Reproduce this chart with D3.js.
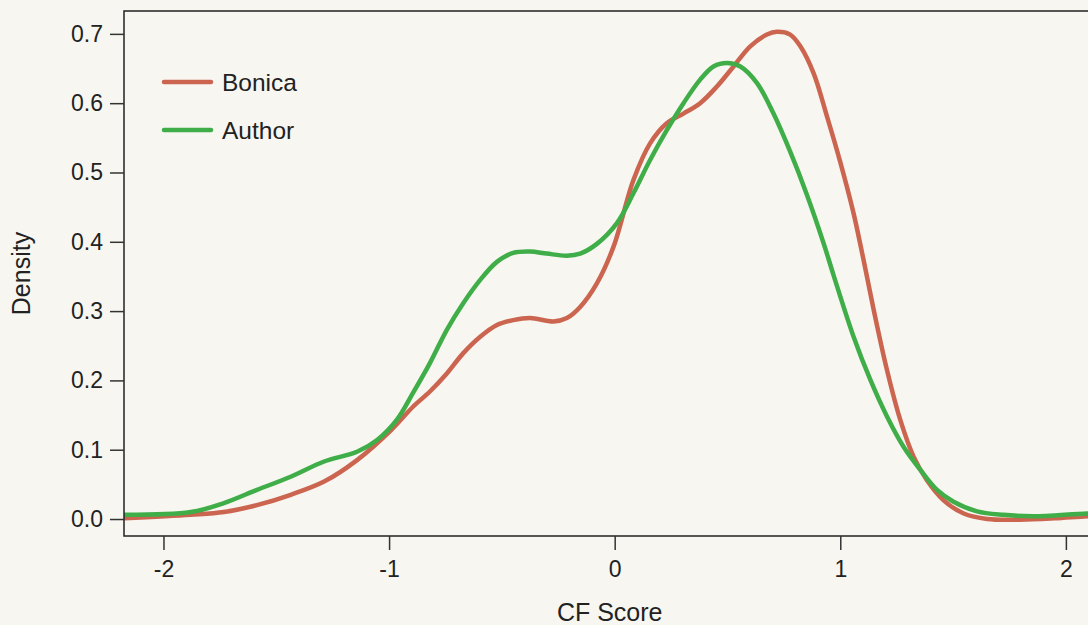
<!DOCTYPE html>
<html>
<head>
<meta charset="utf-8">
<script src="https://cdn.jsdelivr.net/npm/d3@7"></script>
<style>
  body { margin: 0; background: #f7f6f0; }
  text { font-family: "Liberation Sans", Arial, sans-serif; fill: #222; }
</style>
</head>
<body>
<svg></svg>
<script>
const svgWidth = 1088
const svgHeight = 625
const margins = { top: 11, bottom: 89, left: 124, right: -20 }
const plotWidth = svgWidth - margins.left - margins.right
const plotHeight = svgHeight - margins.top - margins.bottom

// density curves: [cf score, density]
const bonica = [
  [-2.175, 0.001], [-1.879, 0.006], [-1.732, 0.010], [-1.586, 0.020], [-1.436, 0.035],
  [-1.288, 0.054], [-1.142, 0.085], [-0.992, 0.128], [-0.894, 0.162], [-0.819, 0.184],
  [-0.744, 0.210], [-0.672, 0.239], [-0.596, 0.263], [-0.522, 0.280], [-0.450, 0.287],
  [-0.375, 0.290], [-0.271, 0.285], [-0.212, 0.290], [-0.153, 0.306], [-0.079, 0.340],
  [-0.005, 0.393], [0.083, 0.489], [0.157, 0.542], [0.231, 0.571], [0.305, 0.585],
  [0.379, 0.600], [0.453, 0.624], [0.527, 0.653], [0.601, 0.682], [0.675, 0.699],
  [0.719, 0.703], [0.778, 0.699], [0.823, 0.682], [0.882, 0.643], [0.941, 0.581],
  [1.000, 0.515], [1.059, 0.441], [1.103, 0.374], [1.148, 0.302], [1.207, 0.215],
  [1.266, 0.143], [1.325, 0.090], [1.384, 0.056], [1.458, 0.027], [1.547, 0.008],
  [1.651, 0.000], [1.798, -0.001], [1.950, 0.001], [2.094, 0.004], [2.190, 0.005]
]

const author = [
  [-2.175, 0.006], [-1.879, 0.010], [-1.732, 0.023], [-1.586, 0.042], [-1.436, 0.061],
  [-1.288, 0.083], [-1.142, 0.097], [-1.053, 0.114], [-0.966, 0.143], [-0.894, 0.182],
  [-0.819, 0.225], [-0.744, 0.273], [-0.672, 0.311], [-0.596, 0.345], [-0.522, 0.371],
  [-0.450, 0.384], [-0.375, 0.386], [-0.301, 0.383], [-0.212, 0.380], [-0.153, 0.383],
  [-0.079, 0.397], [0.010, 0.427], [0.083, 0.470], [0.157, 0.518], [0.231, 0.561],
  [0.305, 0.600], [0.379, 0.634], [0.438, 0.653], [0.498, 0.658], [0.557, 0.653],
  [0.631, 0.629], [0.704, 0.585], [0.778, 0.530], [0.852, 0.468], [0.926, 0.398],
  [0.970, 0.352], [1.059, 0.263], [1.133, 0.201], [1.207, 0.148], [1.281, 0.104],
  [1.355, 0.071], [1.429, 0.042], [1.502, 0.025], [1.606, 0.011], [1.723, 0.006],
  [1.856, 0.004], [2.094, 0.008], [2.190, 0.008]
]

const xTicks = [-2, -1, 0, 1, 2]
const yTicks = [0, 0.1, 0.2, 0.3, 0.4, 0.5, 0.6, 0.7]
const seriesNames = ["Bonica", "Author"]
const seriesColors = ["#cb6550", "#3fae48"]

const svg = d3.select("svg")
  .attr("width", svgWidth)
  .attr("height", svgHeight)

svg.append("rect")
  .attr("width", svgWidth)
  .attr("height", svgHeight)
  .attr("fill", "#f7f6f0")

// 225.6 px per unit of CF score, plot starts at -2.175
const xScale = d3.scaleLinear()
  .domain([-2.175, -2.175 + plotWidth / 225.6])
  .range([0, plotWidth])
const yScale = d3.scaleLinear()
  .domain([-0.0245, 0.733])
  .range([plotHeight, 0])

const plot = svg.append("g")
  .attr("transform", `translate(${margins.left},${margins.top})`)

plot.append("clipPath").attr("id", "clip")
  .append("rect").attr("width", plotWidth).attr("height", plotHeight)

const line = d3.line()
  .x(d => xScale(d[0]))
  .y(d => yScale(d[1]))
  .curve(d3.curveCatmullRom.alpha(0.5))

;[bonica, author].forEach((data, i) => {
  plot.append("path")
    .datum(data)
    .attr("clip-path", "url(#clip)")
    .attr("fill", "none")
    .attr("stroke", seriesColors[i])
    .attr("stroke-width", 4.5)
    .attr("stroke-linejoin", "round")
    .attr("d", line)
})

// frame
plot.append("rect")
  .attr("width", plotWidth)
  .attr("height", plotHeight)
  .attr("fill", "none")
  .attr("stroke", "#222")
  .attr("stroke-width", 1.5)

const yAxis = plot.append("g")
  .call(d3.axisLeft(yScale).tickValues(yTicks).tickSize(14).tickPadding(7)
    .tickFormat(d3.format(".1f")))
yAxis.select(".domain").remove()
yAxis.selectAll("line").attr("stroke", "#333").attr("stroke-width", 1.5)
yAxis.selectAll("text").attr("font-size", 23).attr("fill", "#222")
  .attr("font-family", "Liberation Sans, Arial, sans-serif")

const xAxis = plot.append("g")
  .attr("transform", `translate(0,${plotHeight})`)
  .call(d3.axisBottom(xScale).tickValues(xTicks).tickSize(14).tickPadding(11)
    .tickFormat(d => String(d)))
xAxis.select(".domain").remove()
xAxis.selectAll("line").attr("stroke", "#333").attr("stroke-width", 1.5)
xAxis.selectAll("text").attr("font-size", 23).attr("fill", "#222")
  .attr("font-family", "Liberation Sans, Arial, sans-serif")

svg.append("text")
  .text("Density")
  .attr("transform", `translate(30,${margins.top + plotHeight / 2}) rotate(-90)`)
  .attr("text-anchor", "middle")
  .attr("font-size", 25)

svg.append("text")
  .text("CF Score")
  .attr("x", xScale(0) + margins.left - 5)
  .attr("y", 621)
  .attr("text-anchor", "middle")
  .attr("font-size", 25)

const legend = svg.append("g")
  .attr("transform", "translate(164,82)")
seriesNames.forEach((name, i) => {
  legend.append("line")
    .attr("x1", 0).attr("x2", 47)
    .attr("y1", i * 48).attr("y2", i * 48)
    .attr("stroke", seriesColors[i])
    .attr("stroke-width", 4.5)
    .attr("stroke-linecap", "round")
  legend.append("text")
    .text(name)
    .attr("x", 58)
    .attr("y", i * 48 + 8.5)
    .attr("font-size", 24.5)
})
</script>
</body>
</html>
